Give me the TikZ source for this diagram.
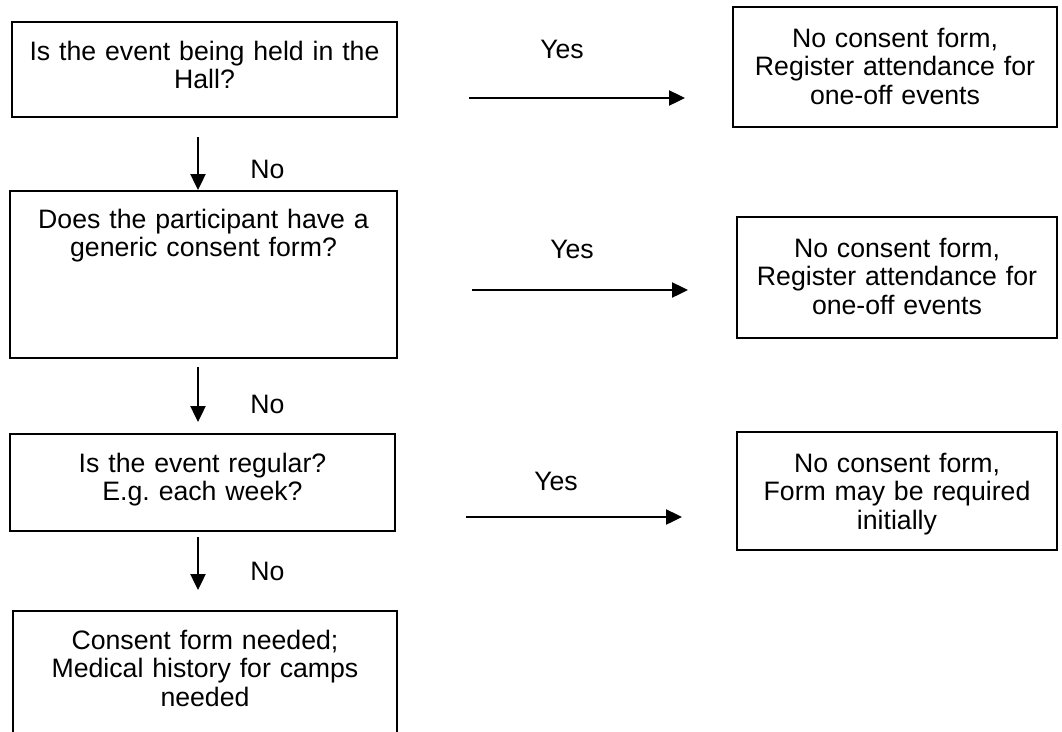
\documentclass[tikz,border=0pt]{standalone}
\usepackage{fontspec}
\setmainfont{Liberation Sans}
\usetikzlibrary{arrows.meta}
\frenchspacing
\begin{document}
\begin{tikzpicture}[x=0.45pt,y=-0.45pt,
  qbox/.style={draw,line width=0.9pt,align=center,inner sep=0pt,anchor=base,
    font=\fontsize{12}{12.9}\selectfont},
  flow/.style={line width=0.9pt,-{Triangle[length=7.2pt,width=6.8pt]}},
  lbl/.style={inner sep=0pt,anchor=base,font=\fontsize{12}{12.9}\selectfont}]
\clip (0,0) rectangle (1062,731);
% questions on the left
\node[qbox,text width=173.25pt,text height=17.1pt,text depth=25.65pt] (q1) at (204.5,60)
  {Is the event being held in the\\Hall?};
\node[qbox,text width=174.15pt,text height=16.65pt,text depth=58.5pt] (q2) at (203.5,228)
  {Does the participant have a\\generic consent form?};
\node[qbox,text width=173.25pt,text height=17.1pt,text depth=26.55pt] (q3) at (202.5,472)
  {Is the event regular?\\E.g. each week?};
\node[qbox,text width=172.8pt,text height=17.1pt,text depth=54pt] (fin) at (205,649)
  {Consent form needed;\\Medical history for camps\\needed};
% answers on the right
\node[qbox,text width=145.8pt,text height=18pt,text depth=36pt] (a1) at (895,47)
  {No consent form,\\Register attendance for\\one-off events};
\node[qbox,text width=144pt,text height=18pt,text depth=36.45pt] (a2) at (897,257)
  {No consent form,\\Register attendance for\\one-off events};
\node[qbox,text width=144pt,text height=18pt,text depth=35.1pt] (a3) at (897,472)
  {No consent form,\\Form may be required\\initially};
% yes arrows
\coordinate (y1s) at (469,98);  \coordinate (y1e) at (685,98);
\coordinate (y2s) at (472,290); \coordinate (y2e) at (688,290);
\coordinate (y3s) at (466,517); \coordinate (y3e) at (682,517);
\draw[flow] (y1s) -- (y1e);
\draw[flow] (y2s) -- (y2e);
\draw[flow] (y3s) -- (y3e);
\node[lbl] (yes1) at (562,58) {Yes};
\node[lbl] (yes2) at (572,258) {Yes};
\node[lbl] (yes3) at (556,490) {Yes};
% no arrows
\coordinate (n1s) at (198,137);
\coordinate (n2s) at (198,367); \coordinate (n2e) at (198,422);
\coordinate (n3s) at (198,537); \coordinate (n3e) at (198,590);
\draw[flow] (n1s) -- (n1s |- q2.north);
\draw[flow] (n2s) -- (n2e);
\draw[flow] (n3s) -- (n3e);
\node[lbl,anchor=base west] (no1) at (250,178) {No};
\node[lbl,anchor=base west] (no2) at (250,413) {No};
\node[lbl,anchor=base west] (no3) at (250,580) {No};
\end{tikzpicture}
\end{document}
